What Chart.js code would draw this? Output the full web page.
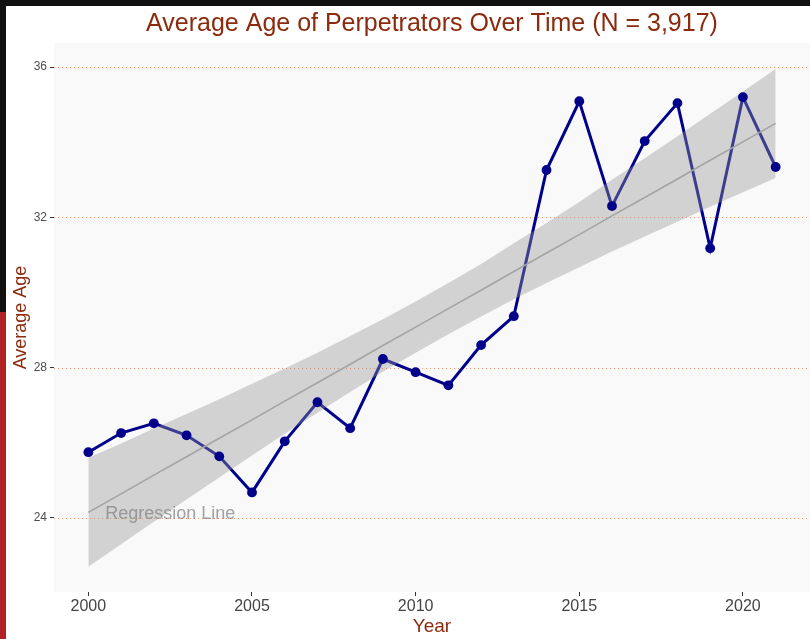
<!DOCTYPE html>
<html><head><meta charset="utf-8">
<script src="https://cdn.jsdelivr.net/npm/chart.js@4"></script>
<style>
html,body{margin:0;padding:0;background:#fff;overflow:hidden}
#wrap{position:absolute;left:0;top:0;width:810px;height:639px}
</style></head>
<body><div id="wrap"><canvas id="c" width="810" height="639"></canvas></div>
<script>
const years = [2000,2001,2002,2003,2004,2005,2006,2007,2008,2009,2010,2011,2012,2013,2014,2015,2016,2017,2018,2019,2020,2021];
const avgAge = [25.75,26.26,26.52,26.20,25.64,24.68,26.04,27.08,26.39,28.23,27.88,27.53,28.60,29.37,33.26,35.09,32.30,34.03,35.04,31.18,35.20,33.34];
const fitLine = [24.15,24.64,25.14,25.63,26.12,26.61,27.11,27.60,28.09,28.59,29.08,29.57,30.06,30.56,31.05,31.54,32.04,32.53,33.02,33.52,34.01,34.50];
const bandUpper = [25.60,25.98,26.38,26.77,27.16,27.57,27.98,28.40,28.84,29.29,29.76,30.25,30.76,31.31,31.85,32.41,33.00,33.57,34.16,34.76,35.35,35.95];
const bandLower = [22.70,23.30,23.90,24.49,25.08,25.66,26.24,26.80,27.35,27.89,28.40,28.89,29.36,29.82,30.25,30.67,31.09,31.49,31.88,32.28,32.67,33.05];
const xTicks = [2000,2005,2010,2015,2020];
const yTicks = [24,28,32,36];
const titleText = 'Average Age of Perpetrators Over Time (N = 3,917)';
const xTitle = 'Year';
const yTitle = 'Average Age';
const noteText = 'Regression Line';
const noteX = 2002.5, noteY = 24.1;

const FONT = '"Liberation Sans", Arial, sans-serif';
const TITLE_COL = '#8b2a0c';
const pts = a => years.map((y,i)=>({x:y, y:a[i]}));

const decor = {
  id:'decor',
  beforeDraw(chart){
    const {ctx, chartArea:a} = chart;
    ctx.save();
    ctx.fillStyle='#ffffff'; ctx.fillRect(0,0,chart.width,chart.height);
    ctx.fillStyle='#f9f9f9'; ctx.fillRect(a.left,a.top,a.right-a.left,a.bottom-a.top);
    ctx.restore();
  },
  beforeDatasetsDraw(chart){
    const {ctx, chartArea:a, scales:{y}} = chart;
    ctx.save();
    ctx.strokeStyle='rgba(244,140,90,0.9)';
    ctx.lineWidth=1;
    ctx.setLineDash([1,3]);
    yTicks.forEach(v=>{
      const py = Math.round(y.getPixelForValue(v))+0.5;
      ctx.beginPath(); ctx.moveTo(a.left,py); ctx.lineTo(a.right,py); ctx.stroke();
    });
    ctx.restore();
  },
  afterDatasetsDraw(chart){
    const {ctx, scales:{x,y}} = chart;
    ctx.save();
    ctx.font = '18px '+FONT;
    ctx.fillStyle='rgba(128,128,128,0.72)';
    ctx.textAlign='center'; ctx.textBaseline='middle';
    ctx.fillText(noteText, x.getPixelForValue(noteX), y.getPixelForValue(noteY));
    ctx.restore();
  },
  afterDraw(chart){
    const {ctx, chartArea:a} = chart;
    const cx = (a.left+a.right)/2;
    ctx.save();
    ctx.fillStyle=TITLE_COL;
    ctx.textAlign='center'; ctx.textBaseline='middle';
    ctx.font='25px '+FONT;
    ctx.fillText(titleText, cx, 24);
    ctx.font='19px '+FONT;
    ctx.fillText(xTitle, cx, 627);
    ctx.font='18px '+FONT;
    ctx.translate(21,(a.top+a.bottom)/2);
    ctx.rotate(-Math.PI/2);
    ctx.fillText(yTitle,0,0);
    ctx.restore();
    ctx.save();
    ctx.fillStyle='#111111';
    ctx.fillRect(0,0,chart.width,6);
    ctx.fillRect(0,0,6,312);
    ctx.fillStyle='#b22222';
    ctx.fillRect(0,312,6,chart.height-312);
    ctx.restore();
  }
};

new Chart(document.getElementById('c'), {
  type:'line',
  data:{ datasets:[
    {data:pts(avgAge), borderColor:'#00008b', borderWidth:3, pointRadius:0, fill:false, order:5, tension:0},
    {data:pts(bandUpper), borderColor:'transparent', borderWidth:0, pointRadius:0, fill:'+1', backgroundColor:'rgba(153,153,153,0.4)', order:4},
    {data:pts(bandLower), borderColor:'transparent', borderWidth:0, pointRadius:0, fill:false, order:4},
    {data:pts(fitLine), borderColor:'#a4a4a4', borderWidth:1.6, pointRadius:0, fill:false, order:2},
    {data:pts(avgAge), showLine:false, pointRadius:4.9, pointBackgroundColor:'#00008b', pointBorderColor:'#00008b', pointBorderWidth:0, order:1}
  ]},
  options:{
    responsive:false, animation:false, devicePixelRatio:1,
    layout:{autoPadding:false, padding:{top:43,right:0,bottom:0,left:0}},
    plugins:{legend:{display:false}, tooltip:{enabled:false}, title:{display:false}},
    events:[],
    scales:{
      x:{type:'linear', min:1998.95, max:2022.05,
        afterBuildTicks:s=>{s.ticks = xTicks.map(v=>({value:v}));},
        afterFit:s=>{s.height=47; s.paddingLeft=0; s.paddingRight=0;},
        ticks:{callback:v=>String(v), color:'#444444', font:{size:16, family:FONT}, padding:1, maxRotation:0, autoSkip:false},
        grid:{drawOnChartArea:false, drawTicks:true, tickLength:4, tickColor:'#333333', tickWidth:1, color:'#333333'},
        border:{display:false}
      },
      y:{type:'linear', min:22.03, max:36.64,
        afterBuildTicks:s=>{s.ticks = yTicks.map(v=>({value:v}));},
        afterFit:s=>{s.width=54; s.paddingTop=0; s.paddingBottom=0;},
        ticks:{callback:v=>String(v), color:'#4d4d4d', font:{size:12, family:FONT}, padding:3, autoSkip:false},
        grid:{drawOnChartArea:false, drawTicks:true, tickLength:4, tickColor:'#333333', tickWidth:1, color:'#333333'},
        border:{display:false}
      }
    }
  },
  plugins:[decor]
});
</script></body></html>
